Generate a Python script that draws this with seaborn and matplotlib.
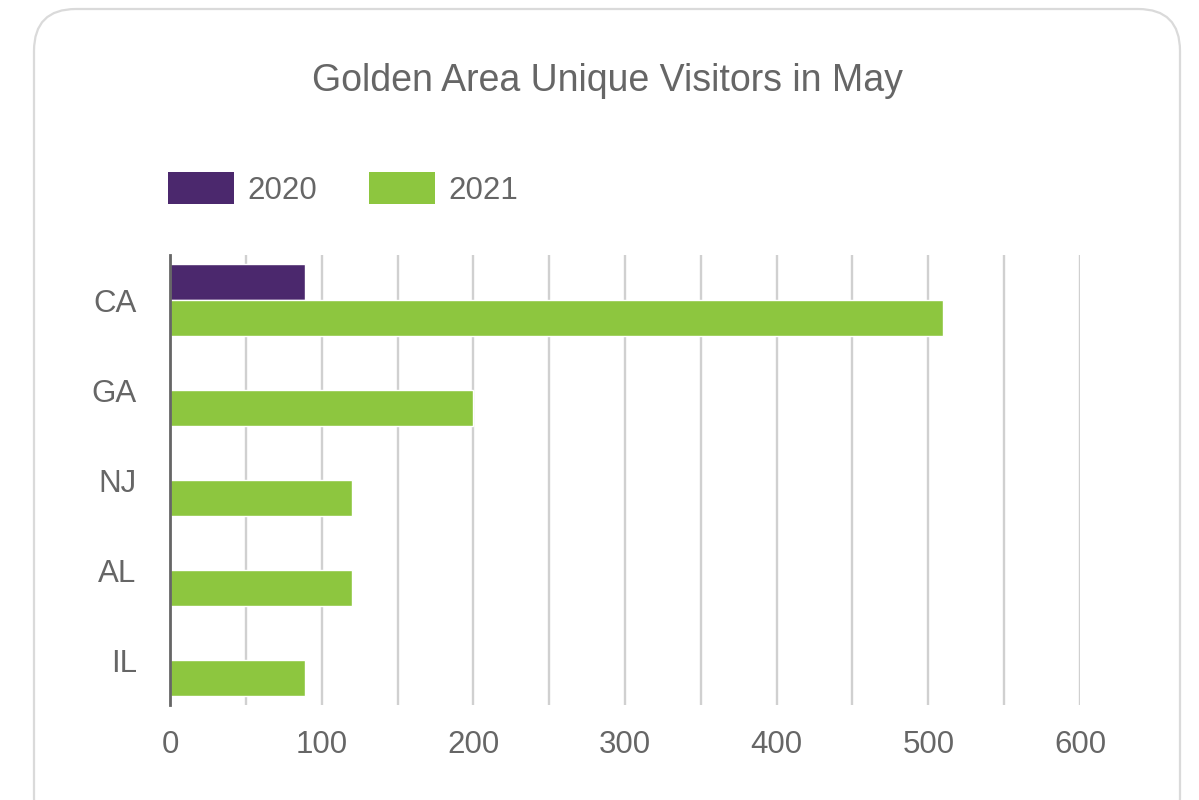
import matplotlib
matplotlib.use("Agg")
import matplotlib.pyplot as plt
from matplotlib.patches import FancyBboxPatch, Patch
from matplotlib.ticker import MultipleLocator
import pandas as pd
import seaborn as sns

# data
states = ["CA", "GA", "NJ", "AL", "IL"]
visitors_2020 = [89, 0, 0, 0, 0]
visitors_2021 = [510, 200, 120, 120, 89]
years = ["2020", "2021"]
colors = {"2020": "#4B286D", "2021": "#8DC63F"}

df = pd.DataFrame({
    "state": states * 2,
    "visitors": visitors_2020 + visitors_2021,
    "year": ["2020"] * len(states) + ["2021"] * len(states),
})

sns.set_style("white")
plt.rcParams["font.family"] = ["Liberation Sans", "DejaVu Sans"]
text_col = "#666666"

fig = plt.figure(figsize=(11.99, 8), dpi=100)

# rounded card border, kept behind the axes
card = FancyBboxPatch((34 / 1199, -0.05), 1146 / 1199, 1.0 - 9 / 800 + 0.05,
                      boxstyle="round,pad=0,rounding_size=0.035",
                      transform=fig.transFigure, facecolor="none",
                      edgecolor="#dadada", linewidth=1.6, mutation_aspect=1199 / 800,
                      zorder=-10)
fig.patches.append(card)

ax = fig.add_axes([170 / 1199, 1 - 705 / 800, 910 / 1199, 450 / 800])
ax.set_facecolor("none")

sns.barplot(data=df, x="visitors", y="state", hue="year", order=states,
            hue_order=years, palette=colors, orient="h", width=0.8,
            saturation=1, ax=ax, legend=False)

ax.set_xlim(0, 600)
ax.set_ylim(4.5, -0.5)
ax.xaxis.set_major_locator(MultipleLocator(100))
ax.xaxis.set_minor_locator(MultipleLocator(50))
ax.grid(axis="x", which="both", color="#d0d0d0", linewidth=1.7)
ax.set_axisbelow(True)
for s in ["top", "right", "bottom"]:
    ax.spines[s].set_visible(False)
ax.spines["left"].set_color(text_col)
ax.spines["left"].set_linewidth(2)
ax.tick_params(axis="both", which="both", length=0, labelsize=22.5, labelcolor=text_col)
ax.tick_params(axis="y", pad=24)
ax.tick_params(axis="x", pad=18)
ax.set_xlabel("")
ax.set_ylabel("")

fig.text(607 / 1199, 1 - 81 / 800, "Golden Area Unique Visitors in May",
         ha="center", va="center", fontsize=27, color=text_col)

handles = [Patch(facecolor=colors[y], edgecolor="none") for y in years]
leg = fig.legend(handles, years, loc="center left",
                 bbox_to_anchor=(168 / 1199, 1 - 189 / 800), ncol=2, frameon=False,
                 fontsize=22.5, handlelength=2.1, handleheight=1.2,
                 handletextpad=0.45, columnspacing=1.65, borderpad=0, borderaxespad=0)
for t in leg.get_texts():
    t.set_color(text_col)

fig.savefig("out.png", dpi=100)
